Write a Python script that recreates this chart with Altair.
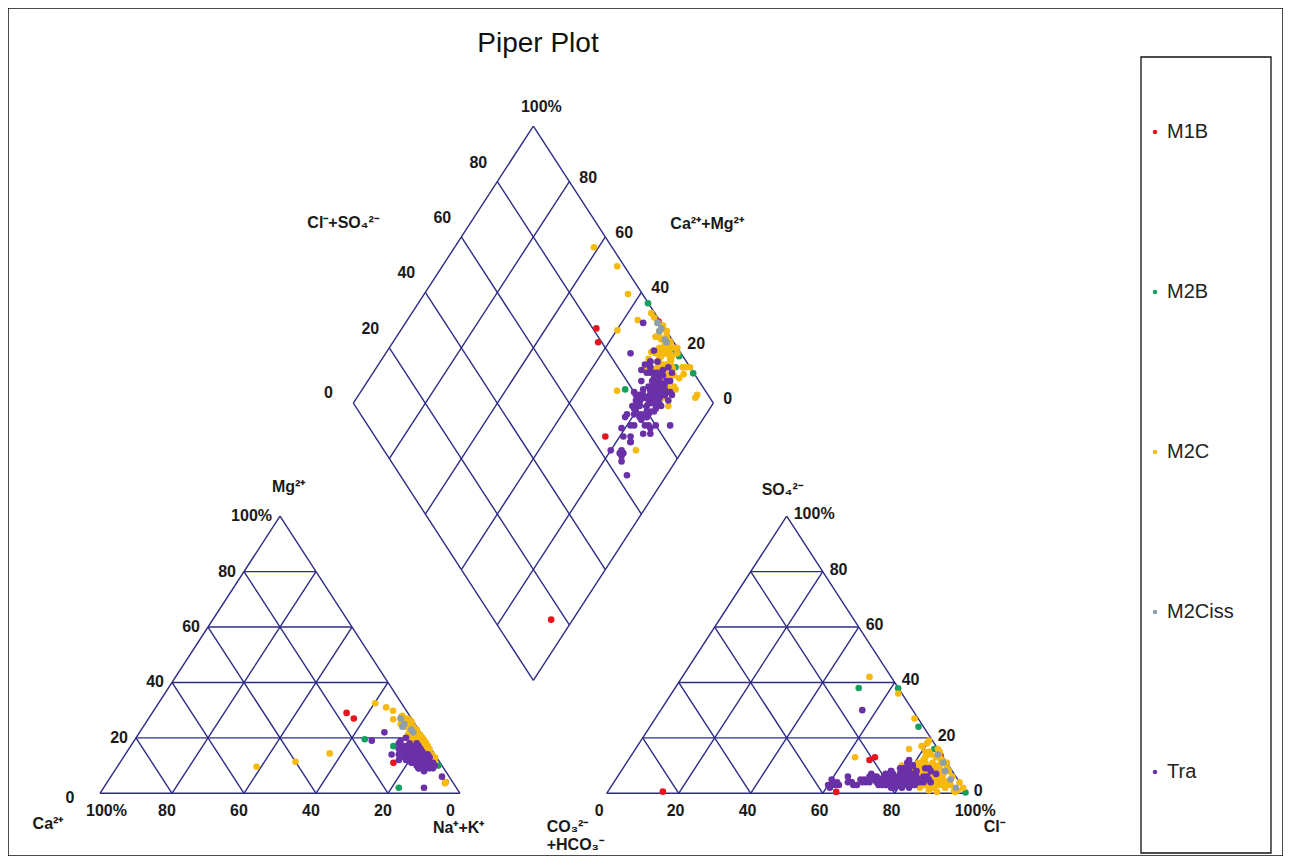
import math
import altair as alt
import pandas as pd

# ---------------- data (percent of meq) ----------------
groups = ["M1B", "M2B", "M2C", "M2Ciss", "Tra"]
colors = ["#e8141c", "#16a060", "#f6b90d", "#8d9eae", "#6a30a8"]

m1b_ca = [17, 16, 2.4, 13, 2]
m1b_mg = [29, 27, 27.6, 11, 4]
m1b_cl = [68, 67, 86, 63.5, 15.3]
m1b_so4 = [13, 12, 13.5, 0.5, 0.6]

m2b_ca = [16.7, 16, 1, 1, 1, 10, 2]
m2b_mg = [19.5, 2, 23, 20, 10, 17, 15]
m2b_cl = [62, 83, 51, 74.6, 99.5, 73, 88]
m2b_so4 = [37.9, 16, 38, 24, 0.3, 5, 8]

m2c_ca = [1, 2, 0.5, 3, 1, 2, 0.5, 4, 1, 2,
          1, 3, 0.5, 2, 1, 4, 1, 2, 0.5, 3,
          1, 2, 5, 1, 2, 0.5, 3, 1, 4, 2,
          1, 0.5, 2, 3, 1, 2, 1, 5, 2, 1,
          51.7, 40, 29, 7.3, 5, 3.7, 5.2, 2.4, 2, 4,
          2, 1, 0.5, 3, 2, 1, 0.5, 2, 1, 3,
          2, 0.5, 1, 2, 1, 3, 0.5, 2, 1, 2,
          0.5, 1, 2, 3, 1, 0.5, 2, 1, 2, 1,
          1, 2, 0.5, 3, 1, 2, 1, 0.5, 2, 1,
          3, 1, 2, 0.5, 1, 2, 4, 1, 0.5, 2]
m2c_mg = [18, 20, 16, 22, 14, 24, 19, 17, 12, 26,
          21, 15, 23, 13, 20, 18, 25, 11, 17, 19,
          22, 14, 16, 27, 15, 20, 12, 24, 21, 18,
          16, 13, 23, 17, 19, 28, 14, 20, 10, 22,
          9.6, 11.4, 14.4, 32.5, 31, 29.8, 26.7, 3.6, 4, 25,
          11, 19, 21, 17, 23, 15, 18, 20, 16, 22,
          24, 19, 13, 21, 17, 25, 20, 18, 22, 16,
          19, 23, 14, 20, 18, 26, 21, 17, 15, 19,
          15, 21, 18, 24, 13, 17, 22, 19, 26, 16,
          20, 14, 23, 18, 21, 12, 19, 25, 17, 20]
m2c_cl = [84, 86, 83, 87, 87, 82, 87, 80, 98, 80,
          81, 89, 85, 83, 82, 89, 84, 90, 79, 89,
          82, 87, 93, 79, 83, 86, 93, 82, 79, 96,
          82, 96, 83, 80, 91, 80, 84, 84, 83, 86,
          90, 85, 88, 80, 52, 63, 72, 92, 94, 62.5,
          66, 83, 88, 83, 87, 91, 82, 82, 87, 77,
          89, 88, 93, 85, 82, 81, 82, 89, 87, 80,
          87, 83, 87, 85, 90, 76, 85, 84, 86, 90,
          89, 90, 89, 96.5, 91, 86, 81, 92, 85, 89,
          84, 97, 85, 84, 89, 91.5, 86, 86, 93, 87]
m2c_so4 = [8, 10, 5, 12, 3, 15, 7, 9, 2, 18,
           10, 6, 14, 4, 11, 7, 16, 2, 9, 8,
           12, 3, 6, 17, 3, 7, 5, 13, 10, 4,
           10, 1, 11, 8, 5, 19, 6, 9, 4, 9,
           5, 13, 8, 6.5, 42, 36, 27, 4, 3, 13,
           4, 8, 9, 5, 12, 3, 8, 14, 6, 10,
           11, 4, 2, 13, 7, 15, 9, 5, 12, 8,
           6, 14, 3, 10, 9, 16, 11, 5, 8, 7,
           1, 3, 6, 0.5, 8, 2, 11, 4, 15, 2,
           5, 1, 9, 3, 7, 0.5, 13, 4, 2, 10]

m2ciss_ca = [3, 4, 2, 3, 2]
m2ciss_mg = [25, 24, 22, 27, 23]
m2ciss_cl = [88, 96, 90, 85, 93]
m2ciss_so4 = [11, 2, 8, 14, 5]

tra_ca = [5, 4, 6, 3, 7, 5, 8, 4, 6, 2,
          9, 5, 3, 7, 6, 4, 10, 5, 3, 8,
          6, 2, 5, 7, 4, 11, 6, 3, 5, 8,
          4, 6, 9, 2, 5, 7, 3, 6, 4, 12,
          5, 8, 3, 6, 5, 10, 15, 9, 2, 5,
          8, 4, 5, 6, 3, 7, 4, 5, 2, 6,
          7, 3, 5, 4, 8, 6, 2, 9, 5, 3,
          4, 7, 6, 5, 3, 8, 4, 6, 5, 7,
          3, 5, 6, 4, 2, 7, 5, 4, 6, 3,
          5, 6, 4, 7, 3, 5, 8, 6, 4, 5,
          7, 3, 6, 5, 4, 9, 5, 6, 3, 4]
tra_mg = [13, 12, 14, 11, 15, 16, 12, 14, 10, 13,
          13, 18, 15, 11, 17, 9, 14, 12, 17, 16,
          13, 10, 20, 9, 16, 12, 14, 12, 11, 18,
          15, 8, 15, 14, 13, 19, 9, 16, 13, 14,
          10, 13, 18, 12, 15, 22, 19, 2, 6, 12,
          14, 12, 11, 15, 13, 10, 16, 14, 11, 12,
          17, 13, 9, 15, 12, 11, 14, 16, 10, 12,
          13, 15, 9, 14, 16, 11, 12, 13, 17, 10,
          15, 12, 14, 11, 13, 9, 16, 12, 14, 10,
          14, 12, 15, 13, 16, 11, 13, 15, 12, 17,
          14, 12, 13, 16, 10, 12, 15, 11, 14, 13]
tra_cl = [78, 80, 76, 82, 74, 79, 72, 84, 77, 81,
          70, 83, 75, 79, 86, 73, 78, 68, 80, 76,
          84, 71, 82, 66, 77, 74, 88, 79, 63, 81,
          85, 75, 79, 83, 70, 84, 78, 72, 86, 80,
          61, 77, 82, 69, 76, 56, 88, 60, 80, 62,
          68, 66, 67, 64, 60, 62, 61, 65, 82, 79,
          83, 76, 71, 85, 78, 74, 87, 80, 73, 77,
          81, 75, 84, 69, 78, 82, 76, 80, 74, 86,
          72, 79, 83, 77, 81, 75, 78, 84, 70, 80,
          79, 82, 76, 80, 84, 78, 73, 81, 77, 85,
          75, 83, 79, 71, 80, 76, 82, 78, 86, 74]
tra_so4 = [5, 4, 6, 3, 7, 6, 5, 4, 3, 7,
           4, 5, 8, 2, 6, 5, 9, 3, 10, 4,
           3, 6, 8, 4, 5, 6, 4, 9, 3, 7,
           6, 3, 5, 4, 7, 9, 2, 5, 8, 6,
           3, 4, 6, 5, 3, 30, 7, 3, 4, 4,
           5, 4, 3, 6, 5, 3, 2, 4, 8, 3,
           6, 5, 4, 9, 7, 3, 5, 10, 4, 6,
           2, 8, 5, 4, 11, 6, 3, 7, 5, 4,
           6, 9, 3, 5, 7, 4, 12, 5, 6, 8,
           6, 4, 7, 5, 3, 8, 5, 6, 9, 4,
           7, 2, 5, 6, 10, 4, 3, 7, 5, 6]

samples = {
    "M1B": (m1b_ca, m1b_mg, m1b_cl, m1b_so4),
    "M2B": (m2b_ca, m2b_mg, m2b_cl, m2b_so4),
    "M2C": (m2c_ca, m2c_mg, m2c_cl, m2c_so4),
    "M2Ciss": (m2ciss_ca, m2ciss_mg, m2ciss_cl, m2ciss_so4),
    "Tra": (tra_ca, tra_mg, tra_cl, tra_so4),
}

# ---------------- geometry ----------------
R3 = math.sqrt(3) / 2          # height factor
H = 100 * R3                   # triangle height
GAP = 40.75                    # gap between the two triangles
AX = 100 + GAP                 # anion triangle left vertex
BX, BY = 100 + GAP / 2, GAP / 2 * math.sqrt(3)   # diamond bottom vertex
PXU, PXV = 3.6, 3.2            # pixels per unit (x, y)
W, HGT = 1275, 848
X0 = -92 / PXU
Y0 = (785.3 - HGT) / PXV
xdom = [X0, X0 + W / PXU]
ydom = [Y0, Y0 + HGT / PXV]


def cat_xy(ca, mg):
    na = 100 - ca - mg
    return na + mg / 2, mg * R3


def an_xy(cl, so4):
    return AX + cl + so4 / 2, so4 * R3


def dia_xy(a, c):
    return BX + 0.5 * (a - c), BY + R3 * (a + c)


rows = []
for gi, g in enumerate(groups):
    ca, mg, cl, so4 = samples[g]
    for i in range(len(ca)):
        for (x, y) in (cat_xy(ca[i], mg[i]), an_xy(cl[i], so4[i]),
                       dia_xy(cl[i] + so4[i], ca[i] + mg[i])):
            rows.append({"x": x, "y": y, "group": g, "z": gi})
pts = pd.DataFrame(rows)

# grid segments
segs = []


def seg(p, q):
    segs.append({"x": p[0], "y": p[1], "x2": q[0], "y2": q[1]})


for off in (0, AX):
    A, B, C = (off, 0), (off + 100, 0), (off + 50, H)
    seg(A, B); seg(B, C); seg(A, C)
    for k in (0.2, 0.4, 0.6, 0.8):
        seg((off + 50 * k, H * k), (off + 100 - 50 * k, H * k))
        seg((off + 100 * k, 0), (off + 100 * k + 50 * (1 - k), H * (1 - k)))
        seg((off + 100 * (1 - k), 0), (off + 50 * (1 - k), H * (1 - k)))
for k in (0, 0.2, 0.4, 0.6, 0.8, 1.0):
    seg(dia_xy(100 * k, 0), dia_xy(100 * k, 100))
    seg(dia_xy(0, 100 * k), dia_xy(100, 100 * k))
grid = pd.DataFrame(segs)

# ---------------- labels ----------------
lab = []


def add(text, u, v, dx, dy, align, size=16, weight="bold"):
    lab.append({"x": u + dx / PXU, "y": v - dy / PXV, "text": text,
                "align": align, "size": size, "weight": weight})


def pct(val):
    return "100%" if val == 100 else str(val)


for val in (100, 80, 60, 40, 20, 0):
    add(pct(val), 100 - val, 0, -14, 18, "left")
for val in (20, 40, 60, 80, 100):
    add(pct(val), 0.5 * val, R3 * val, -8, 0, "right")
add("0", 0, 0, -30, 5, "center")
for val in (0, 20, 40, 60, 80, 100):
    add(pct(val), AX + val, 0, -12, 18, "left")
    add(pct(val), AX + 100 - 0.5 * val, R3 * val, 7, -2, "left")
for val in (20, 40, 60, 80):
    x, y = dia_xy(val, 100)
    add(str(val), x, y, -19, -19, "center")
x, y = dia_xy(0, 100)
add("0", x, y, -25, -10, "center")
for val in (0, 20, 40, 60, 80):
    x, y = dia_xy(100, val)
    add(str(val), x, y, 10, -4, "left")
x, y = dia_xy(100, 100)
add("100%", x, y, 8, -19, "center")

add("Mg²⁺", 50, H, -8, -29, "left")
add("Ca²⁺", 0, 0, -52, 31, "center")
add("Na⁺+K⁺", 100, 0, -27, 35, "left")
add("SO₄²⁻", AX + 50, H, -25, -26, "left")
add("Cl⁻", AX + 100, 0, 17, 34, "left")
add("CO₃²⁻", AX, 0, -60, 34, "left")
add("+HCO₃⁻", AX, 0, -60, 52, "left")
x, y = dia_xy(0, 100)
add("Cl⁻+SO₄²⁻", x, y, -46, -180, "left")
x, y = dia_xy(100, 0)
add("Ca²⁺+Mg²⁺", x, y, -43, -179, "left")
labels = pd.DataFrame(lab)

FONT = "Liberation Sans, Arial, Helvetica, sans-serif"
xs = alt.Scale(domain=xdom, nice=False, zero=False)
ys = alt.Scale(domain=ydom, nice=False, zero=False)

gridc = alt.Chart(grid).mark_rule(color="#2c2c84", strokeWidth=1.4).encode(
    x=alt.X("x:Q", scale=xs, axis=None),
    y=alt.Y("y:Q", scale=ys, axis=None),
    x2="x2:Q", y2="y2:Q")

points = alt.Chart(pts).mark_circle(size=44, opacity=1).encode(
    x=alt.X("x:Q", scale=xs, axis=None),
    y=alt.Y("y:Q", scale=ys, axis=None),
    color=alt.Color("group:N", scale=alt.Scale(domain=groups, range=colors),
                    legend=alt.Legend(title=None, orient="none", legendX=1137, legendY=114,
                                      direction="vertical", rowPadding=140,
                                      labelFontSize=20, labelFont=FONT, labelColor="#222",
                                      symbolSize=20, symbolType="circle",
                                      symbolStrokeWidth=0, labelOffset=2, padding=0)),
    order=alt.Order("z:Q"))

text_layers = []
for (al, sz, wt), sub in labels.groupby(["align", "size", "weight"]):
    text_layers.append(
        alt.Chart(sub).mark_text(align=al, baseline="middle", fontSize=int(sz),
                                 fontWeight=wt, font=FONT, color="#1a1a1a").encode(
            x=alt.X("x:Q", scale=xs, axis=None),
            y=alt.Y("y:Q", scale=ys, axis=None),
            text="text:N"))

title = alt.Chart(pd.DataFrame({"t": ["Piper Plot"]})).mark_text(
    align="center", baseline="middle", fontSize=28, font=FONT, color="#111").encode(
    x=alt.value(530), y=alt.value(36), text="t:N")

box = alt.Chart(pd.DataFrame({"b": [1]})).mark_rect(
    fillOpacity=0, stroke="#111", strokeWidth=1.3).encode(
    x=alt.value(1133), x2=alt.value(1263), y=alt.value(49), y2=alt.value(845))

chart = alt.layer(gridc, points, *text_layers, title, box).properties(
    width=W, height=HGT, padding=0,
    autosize=alt.AutoSizeParams(type="none")
).configure_view(stroke="#111", strokeWidth=1.5)

chart.save("out.html", embed_options={"renderer": "svg", "actions": False})
